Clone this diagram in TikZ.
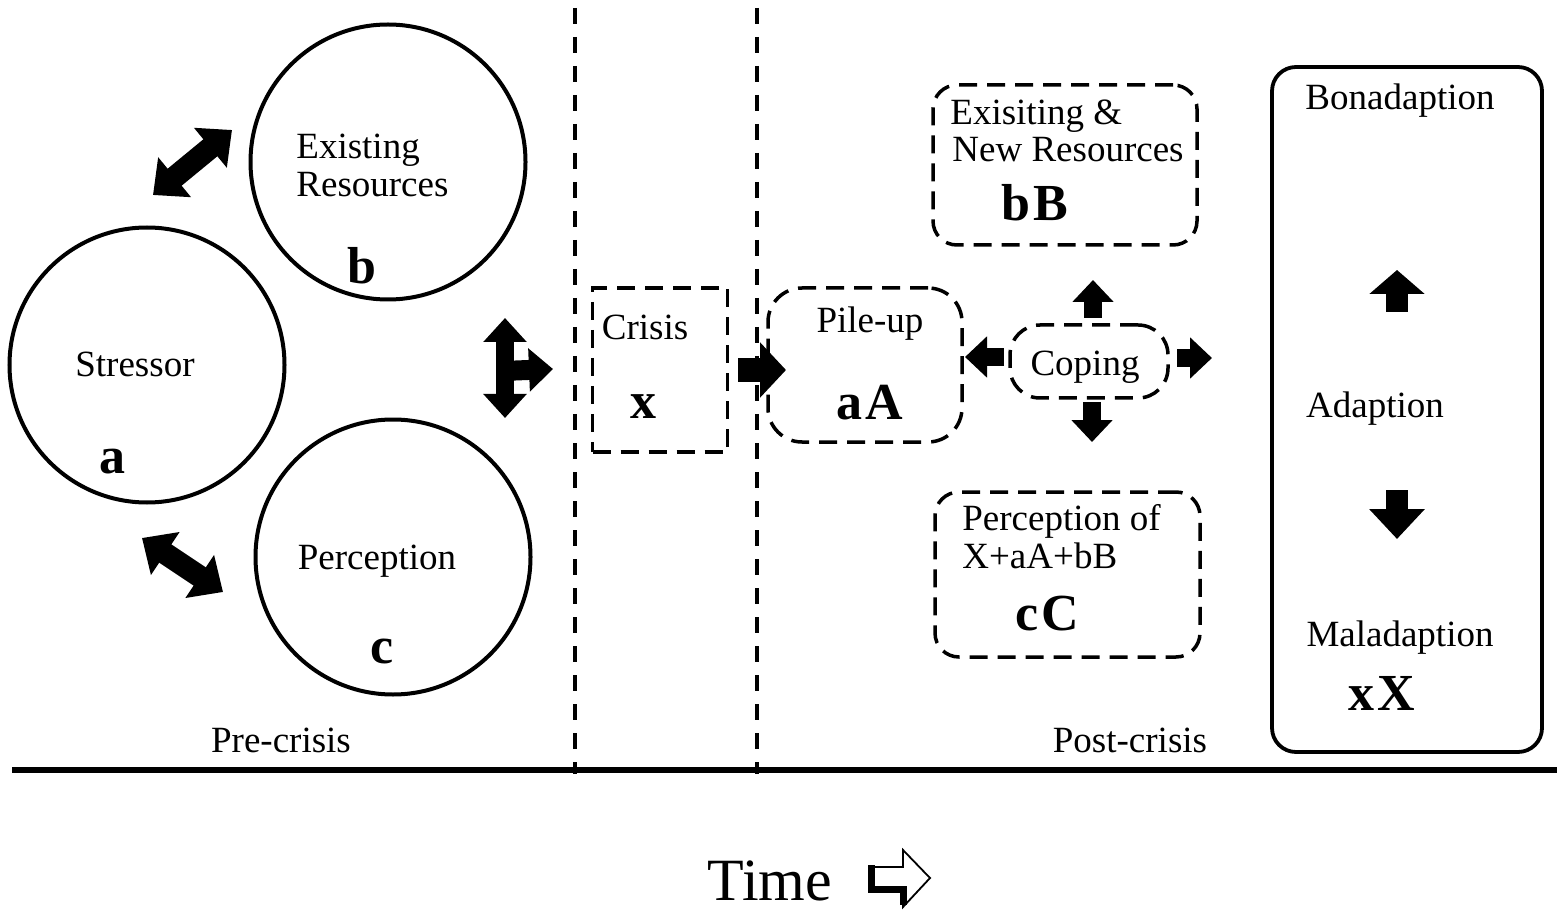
\documentclass[tikz,border=0pt]{standalone}
\usepackage{fontspec}
\setmainfont{Liberation Serif}
\usetikzlibrary{arrows.meta}
\begin{document}
\begin{tikzpicture}[x=0.5pt,y=-0.5pt,
  txt/.style={font=\fontsize{18.5}{19}\selectfont, inner sep=0pt, anchor=base},
  txtl/.style={txt, anchor=base west},
  big/.style={font=\bfseries\fontsize{26}{28}\selectfont, inner sep=0pt, anchor=base},
  circ/.style={circle, draw, line width=2pt, minimum size=137.5pt, inner sep=0pt},
  dbox/.style={draw, line width=1.75pt, dash pattern=on 9pt off 5pt, inner sep=0pt},
  vline/.style={line width=1.6pt, dash pattern=on 8pt off 6.5pt},
  bigdbl/.style={line width=11pt, {Triangle[length=14pt,width=25pt]}-{Triangle[length=14pt,width=25pt]}},
  blk/.style={line width=9pt, -{Triangle[length=11pt,width=20pt]}},
  blkdbl/.style={line width=9pt, {Triangle[length=12pt,width=21pt]}-{Triangle[length=12pt,width=21pt]}}
]
\useasboundingbox (0,0) rectangle (1557,914);

% circles
\node[circ] (stressor) at (147,365) {};
\node[circ] (existing) at (388,162) {};
\node[circ] (percep) at (393,557) {};

\node[txt] (tStress) at (135,377) {Stressor};
\node[big] (ta) at (112,473) {a};
\node[txtl] (tEx1) at (296,159) {Existing};
\node[txtl] (tEx2) at (296,197) {Resources};
\node[big] (tb) at (362,284) {b};
\node[txt] (tPer) at (377,569) {Perception};
\node[big] (tc) at (382,663) {c};

% double arrows between circles
\coordinate (d1a) at (153,195); \coordinate (d1b) at (232,130);
\draw[bigdbl] (d1a) -- (d1b);
\coordinate (d2a) at (142,538); \coordinate (d2b) at (223,592);
\draw[bigdbl] (d2a) -- (d2b);

% T arrow
\coordinate (ta1) at (505,318); \coordinate (ta2) at (505,418);
\coordinate (ta3) at (503,371); \coordinate (ta4) at (553,369);
\draw[blkdbl] (ta1) -- (ta2);
\draw[line width=10pt, -{Triangle[length=12pt,width=21pt]}] (ta3) -- (ta4);

% vertical dashed lines
\coordinate (v1t) at (575,8); \coordinate (v1b) at (575,774);
\coordinate (v2t) at (757,8); \coordinate (v2b) at (757,774);
\draw[vline] (v1t) -- (v1b);
\draw[vline] (v2t) -- (v2b);

% crisis box
\node[dbox, minimum width=67.5pt, minimum height=82pt] (crisis) at (660,370) {};
\node[txt] (tCrisis) at (645,340) {Crisis};
\node[big] (tx) at (643,418) {x};

% arrow crisis -> pile-up
\coordinate (ca1) at (738,370); \coordinate (ca2) at (786,370);
\draw[line width=12pt, -{Triangle[length=13pt,width=27pt]}] (ca1) -- (ca2);

% pile-up box
\node[dbox, rounded corners=17pt, minimum width=97pt, minimum height=77pt] (pile) at (865,365) {};
\node[txt] (tPile) at (870,333) {Pile-up};
\node[big] (taA) at (870,420) {a\kern1.5pt A};

% coping
\node[dbox, rounded corners=15pt, minimum width=79pt, minimum height=36.5pt] (coping) at (1089,361.5) {};
\node[txt] (tCop) at (1085,376) {Coping};
\coordinate (cu1) at (1093,318); \coordinate (cu2) at (1093,280);
\coordinate (cl1) at (1004,357); \coordinate (cl2) at (965,357);
\coordinate (cr1) at (1177,358); \coordinate (cr2) at (1212,358);
\coordinate (cd1) at (1092,402); \coordinate (cd2) at (1092,442);
\draw[blk] (cu1) -- (cu2);
\draw[blk] (cl1) -- (cl2);
\draw[blk] (cr1) -- (cr2);
\draw[blk] (cd1) -- (cd2);

% existing & new resources
\node[dbox, rounded corners=12pt, minimum width=132pt, minimum height=80pt] (newres) at (1065,165) {};
\node[txtl] (tN1) at (950,125) {Exisiting \&};
\node[txtl] (tN2) at (952,162) {New Resources};
\node[big] (tbB) at (1035,221) {b\kern1.5pt B};

% perception of
\node[dbox, rounded corners=12pt, minimum width=132.5pt, minimum height=82.5pt] (percof) at (1067.5,574.5) {};
\node[txtl] (tP1) at (962,530) {Perception of};
\node[txtl] (tP2) at (962,568) {X+aA+bB};
\node[big] (tcC) at (1047,630) {c\kern1.5pt C};

% right box
\node[draw, line width=1.9pt, rounded corners=12pt, minimum width=135pt, minimum height=342.5pt, inner sep=0pt] (outcome) at (1407,409.5) {};
\node[txt] (tBon) at (1400,110) {Bonadaption};
\node[txt] (tAd) at (1375,417) {Adaption};
\node[txt] (tMal) at (1400,646) {Maladaption};
\node[big] (txX) at (1382,710) {x\kern1.5pt X};
\coordinate (ru1) at (1397,312); \coordinate (ru2) at (1397,270);
\coordinate (rd1) at (1397,490); \coordinate (rd2) at (1397,539);
\draw[line width=11pt, -{Triangle[length=12pt,width=27pt]}] (ru1) -- (ru2);
\draw[line width=11pt, -{Triangle[length=15pt,width=27pt]}] (rd1) -- (rd2);

% labels
\node[txt] (tPre) at (281,752) {Pre-crisis};
\node[txt] (tPost) at (1130,752) {Post-crisis};

% time axis
\coordinate (h1) at (12,770); \coordinate (h2) at (1557,770);
\draw[line width=2.6pt] (h1) -- (h2);

\node[font=\fontsize{30}{32}\selectfont, inner sep=0pt, anchor=base] (tTime) at (770,900) {Time};
% hollow arrow
\draw[line width=0.9pt, line join=miter] (870,867) -- (903,867) -- (903,850) -- (930,878) -- (903,907) -- (903,888) -- (870,888) -- cycle;
\draw[line width=3.5pt, line cap=butt] (871,865) -- (871,889) -- (903,889) -- (903,905);
\end{tikzpicture}
\end{document}
